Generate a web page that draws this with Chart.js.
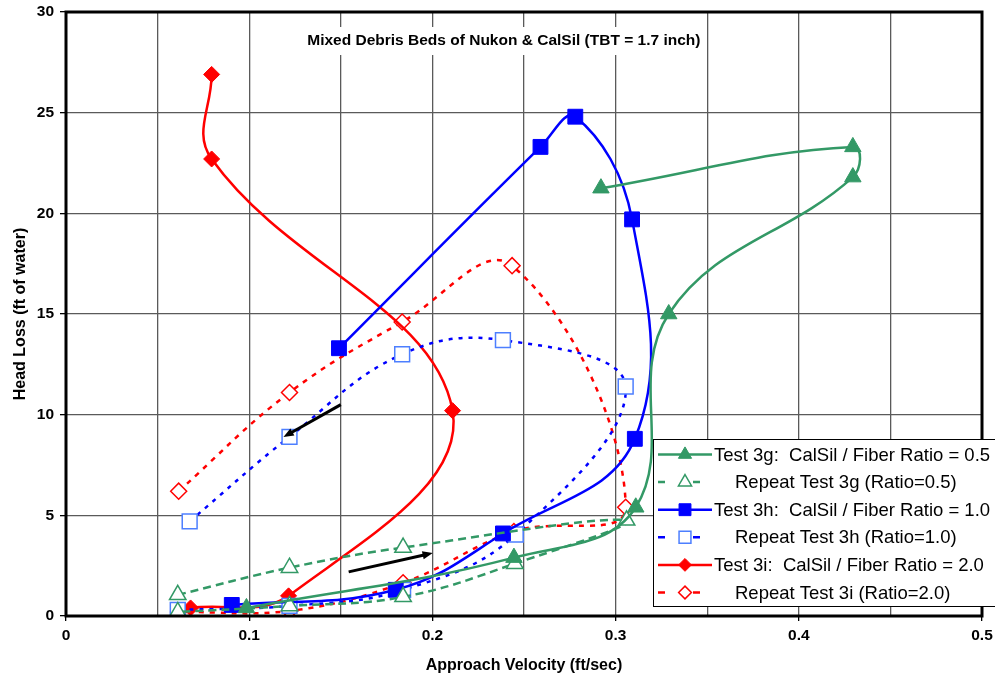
<!DOCTYPE html>
<html>
<head>
<meta charset="utf-8">
<title>Mixed Debris Beds of Nukon &amp; CalSil</title>
<script src="https://cdn.jsdelivr.net/npm/chart.js@4.4.0/dist/chart.umd.min.js"></script>
<style>
    html, body { margin: 0; padding: 0; background: #fff; }
    #wrap { width: 995px; height: 680px; }
</style>
</head>
<body>
<div id="wrap"><canvas id="headLossChart" width="995" height="680"></canvas></div>
<script>
// approach velocity (ft/sec) / head loss (ft of water), in test order
var test3gVel  = [0.0985, 0.2445, 0.311, 0.329, 0.4295, 0.4295, 0.292];
var test3gLoss = [0.4, 2.9, 5.4, 15.0, 21.8, 23.3, 21.25];
var rep3gVel   = [0.061, 0.122, 0.184, 0.306, 0.245, 0.184, 0.122, 0.061];
var rep3gLoss  = [1.05, 2.4, 3.4, 4.75, 2.6, 0.95, 0.5, 0.2];
var test3hVel  = [0.0905, 0.18, 0.2385, 0.3105, 0.309, 0.278, 0.259, 0.149];
var test3hLoss = [0.55, 1.3, 4.1, 8.8, 19.7, 24.8, 23.3, 13.3];
var rep3hVel   = [0.0675, 0.122, 0.1835, 0.2385, 0.3055, 0.2455, 0.184, 0.122, 0.061];
var rep3hLoss  = [4.7, 8.9, 13.0, 13.7, 11.4, 4.05, 1.3, 0.5, 0.3];
var test3iVel  = [0.068, 0.1215, 0.211, 0.0795, 0.0795];
var test3iLoss = [0.4, 1.0, 10.2, 22.7, 26.9];
var rep3iVel   = [0.0615, 0.122, 0.1835, 0.2435, 0.3055, 0.2445, 0.184, 0.122, 0.0615];
var rep3iLoss  = [6.2, 11.1, 14.6, 17.4, 5.4, 4.2, 1.65, 0.25, 0.2];

var seriesNames = [
    'Test 3g:  CalSil / Fiber Ratio = 0.5',
    'Repeat Test 3g (Ratio=0.5)',
    'Test 3h:  CalSil / Fiber Ratio = 1.0',
    'Repeat Test 3h (Ratio=1.0)',
    'Test 3i:  CalSil / Fiber Ratio = 2.0',
    'Repeat Test 3i (Ratio=2.0)'
];

// direction arrows [velocity, head loss]
var arrowStart = [[0.150, 10.5], [0.1543, 2.19]];
var arrowEnd   = [[0.1187, 8.89], [0.2002, 3.13]];

var chartTitle = 'Mixed Debris Beds of Nukon & CalSil (TBT = 1.7 inch)';

var FONT = '"Liberation Sans", Arial, sans-serif';
var GREEN = '#339966';

function toPoints(xs, ys) {
    var pts = [];
    for (var i = 0; i < xs.length; i++) pts.push({x: xs[i], y: ys[i]});
    return pts;
}

function series(label, xs, ys, color, style, filled, radius, dash, markerEdge) {
    return {
        label: label,
        data: toPoints(xs, ys),
        showLine: true,
        borderColor: color,
        borderWidth: 2.5,
        borderDash: dash,
        tension: 0.4,
        pointStyle: style,
        pointRadius: radius,
        pointHoverRadius: radius,
        pointBackgroundColor: filled ? color : '#ffffff',
        pointBorderColor: markerEdge || color,
        pointBorderWidth: filled ? 1 : 1.5
    };
}

var datasets = [
    series(seriesNames[0], test3gVel, test3gLoss, GREEN, 'triangle', true, 9.5, []),
    series(seriesNames[1], rep3gVel, rep3gLoss, GREEN, 'triangle', false, 9.5, [8, 5]),
    series(seriesNames[2], test3hVel, test3hLoss, '#0000ff', 'rect', true, 10.5, []),
    series(seriesNames[3], rep3hVel, rep3hLoss, '#0000ff', 'rect', false, 10.5, [4, 6], '#4d7fff'),
    series(seriesNames[4], test3iVel, test3iLoss, '#ff0000', 'rectRot', true, 8, []),
    series(seriesNames[5], rep3iVel, rep3iLoss, '#ff0000', 'rectRot', false, 8, [5, 6])
];

// white page, title box, frame, arrows and the inset legend
var decorations = {
    id: 'decorations',
    beforeDraw: function (chart) {
        var ctx = chart.ctx;
        ctx.save();
        ctx.fillStyle = '#fff';
        ctx.fillRect(0, 0, chart.width, chart.height);
        ctx.restore();
    },
    beforeDatasetsDraw: function (chart) {
        var ctx = chart.ctx, a = chart.chartArea;
        var cx = a.left + (a.right - a.left) * 0.478;
        var cy = 41;
        ctx.save();
        ctx.font = 'bold 15.5px ' + FONT;
        var w = ctx.measureText(chartTitle).width;
        ctx.fillStyle = '#fff';
        ctx.fillRect(cx - w / 2 - 4, cy - 14, w + 8, 28);
        ctx.fillStyle = '#000';
        ctx.textAlign = 'center';
        ctx.textBaseline = 'middle';
        ctx.fillText(chartTitle, cx, cy);
        ctx.restore();
    },
    afterDatasetsDraw: function (chart) {
        var ctx = chart.ctx, xs = chart.scales.x, ys = chart.scales.y;
        ctx.save();
        ctx.strokeStyle = '#000';
        ctx.fillStyle = '#000';
        ctx.lineWidth = 3;
        for (var i = 0; i < arrowStart.length; i++) {
            var x0 = xs.getPixelForValue(arrowStart[i][0]), y0 = ys.getPixelForValue(arrowStart[i][1]);
            var x1 = xs.getPixelForValue(arrowEnd[i][0]), y1 = ys.getPixelForValue(arrowEnd[i][1]);
            var ang = Math.atan2(y1 - y0, x1 - x0);
            var head = 11;
            ctx.beginPath();
            ctx.moveTo(x0, y0);
            ctx.lineTo(x1 - Math.cos(ang) * head * 0.7, y1 - Math.sin(ang) * head * 0.7);
            ctx.stroke();
            ctx.beginPath();
            ctx.moveTo(x1, y1);
            ctx.lineTo(x1 - head * Math.cos(ang - 0.38), y1 - head * Math.sin(ang - 0.38));
            ctx.lineTo(x1 - head * Math.cos(ang + 0.38), y1 - head * Math.sin(ang + 0.38));
            ctx.closePath();
            ctx.fill();
        }
        ctx.restore();
    },
    afterDraw: function (chart) {
        var ctx = chart.ctx, a = chart.chartArea;
        ctx.save();
        ctx.strokeStyle = '#000';
        ctx.lineWidth = 3;
        ctx.strokeRect(a.left, a.top, a.right - a.left, a.bottom - a.top);

        // legend box
        var lx = a.right - 329, ly = a.bottom - 177, lw = 342, lh = 167;
        ctx.fillStyle = '#fff';
        ctx.fillRect(lx, ly, lw, lh);
        ctx.lineWidth = 1;
        ctx.strokeRect(lx + 0.5, ly + 0.5, lw, lh);
        ctx.font = '18.5px ' + FONT;
        ctx.textBaseline = 'middle';
        chart.data.datasets.forEach(function (ds, i) {
            var y = ly + 15.5 + i * 27.6;
            ctx.save();
            ctx.strokeStyle = ds.borderColor;
            ctx.lineWidth = ds.borderWidth;
            ctx.beginPath();
            if (ds.borderDash.length) {
                ctx.moveTo(lx + 5, y);
                ctx.lineTo(lx + 12, y);
                ctx.moveTo(lx + 40, y);
                ctx.lineTo(lx + 47, y);
            } else {
                ctx.moveTo(lx + 5, y);
                ctx.lineTo(lx + 59, y);
            }
            ctx.stroke();
            ctx.fillStyle = ds.pointBackgroundColor;
            ctx.strokeStyle = ds.pointBorderColor;
            ctx.lineWidth = ds.pointBorderWidth;
            Chart.helpers.drawPoint(ctx, {
                pointStyle: ds.pointStyle,
                radius: ds.pointRadius * 0.8,
                rotation: 0,
                borderWidth: ds.pointBorderWidth
            }, lx + 32, y);
            ctx.restore();
            ctx.fillStyle = '#000';
            ctx.fillText(ds.label, lx + (ds.borderDash.length ? 82 : 61), y + 1);
        });
        ctx.restore();
    }
};

var tickFont = { family: FONT, size: 15.5, weight: 'bold' };
var titleFont = { family: FONT, size: 16, weight: 'bold' };

new Chart(document.getElementById('headLossChart'), {
    type: 'scatter',
    data: { datasets: datasets },
    plugins: [decorations],
    options: {
        responsive: false,
        animation: false,
        devicePixelRatio: 1,
        layout: { padding: { top: 12, right: 13, left: 0, bottom: 0 } },
        plugins: {
            legend: { display: false },
            tooltip: { enabled: false },
            title: { display: false }
        },
        scales: {
            x: {
                type: 'linear',
                min: 0,
                max: 0.5,
                afterFit: function (s) { s.height = 64; s.paddingRight = 0; s.paddingLeft = 0; },
                border: { display: false },
                grid: {
                    color: '#5a5a5a',
                    lineWidth: 1.3,
                    tickLength: 5,
                    tickColor: function (c) { return (c.tick && c.tick.label !== '') ? '#000' : 'rgba(0,0,0,0)'; }
                },
                ticks: {
                    stepSize: 0.05,
                    padding: 5,
                    color: '#000',
                    font: tickFont,
                    maxRotation: 0,
                    autoSkip: false,
                    callback: function (v) {
                        var n = Math.round(v / 0.05);
                        if (n % 2) return '';
                        return n === 0 ? '0' : String(n / 20);
                    }
                },
                title: {
                    display: true,
                    text: 'Approach Velocity (ft/sec)',
                    color: '#000',
                    font: titleFont,
                    padding: { top: 4, bottom: 5 }
                }
            },
            y: {
                type: 'linear',
                min: 0,
                max: 30,
                afterFit: function (s) { s.width = 66; s.paddingTop = 0; s.paddingBottom = 0; },
                border: { display: false },
                grid: { color: '#5a5a5a', lineWidth: 1.3, tickLength: 6, tickColor: '#000' },
                ticks: { stepSize: 5, padding: 6, color: '#000', font: tickFont },
                title: {
                    display: true,
                    text: 'Head Loss (ft of water)',
                    color: '#000',
                    font: titleFont,
                    padding: { top: 11, bottom: 0 }
                }
            }
        }
    }
});
</script>
</body>
</html>
